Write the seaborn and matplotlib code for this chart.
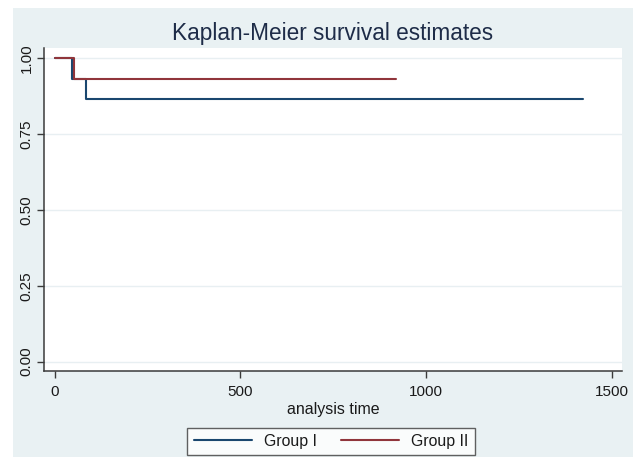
import matplotlib
matplotlib.use("Agg")
import matplotlib.pyplot as plt
from matplotlib.patches import Rectangle
import seaborn as sns
import pandas as pd

# Data (Kaplan-Meier step functions)
group1_time = [0, 48, 84, 1422]
group1_surv = [1.0, 0.9333, 0.8667, 0.8667]
group2_time = [0, 52, 919]
group2_surv = [1.0, 0.9333, 0.9333]
group_names = ["Group I", "Group II"]
x_ticks = [0, 500, 1000, 1500]
y_ticks = [0.0, 0.25, 0.5, 0.75, 1.0]
y_tick_labels = ["0.00", "0.25", "0.50", "0.75", "1.00"]

df = pd.concat([
    pd.DataFrame({"time": group1_time, "surv": group1_surv, "group": group_names[0]}),
    pd.DataFrame({"time": group2_time, "surv": group2_surv, "group": group_names[1]}),
], ignore_index=True)

sns.set_theme(style="white")
plt.rcParams["font.family"] = ["Liberation Sans", "DejaVu Sans"]

W, H = 633, 457
fig = plt.figure(figsize=(W / 100, H / 100), dpi=100)
fig.patch.set_facecolor("white")
bg = "#e9f1f3"
fig.add_artist(Rectangle((13 / W, 0), 1 - 13 / W, 1 - 8 / H, transform=fig.transFigure,
                         facecolor=bg, edgecolor="none", zorder=-10))

ax = fig.add_axes([44 / W, 1 - 371 / H, 578 / W, 323 / H])
ax.set_facecolor("white")

palette = {"Group I": "#1a476f", "Group II": "#90353b"}
sns.lineplot(data=df, x="time", y="surv", hue="group", palette=palette,
             estimator=None, sort=False, drawstyle="steps-post", lw=1.5, ax=ax)

ax.set_xlim(-28.3, 1528)
ax.set_ylim(-0.031, 1.034)
ax.set_xticks(x_ticks)
ax.set_xticklabels([str(t) for t in x_ticks])
ax.set_yticks(y_ticks)
ax.set_yticklabels(y_tick_labels)
plt.setp(ax.get_yticklabels(), rotation=90, va="center")

ax.yaxis.grid(True, color="#e8eff2", lw=1.0)
ax.xaxis.grid(False)
ax.set_axisbelow(True)

for s in ["top", "right"]:
    ax.spines[s].set_visible(False)
for s in ["left", "bottom"]:
    ax.spines[s].set_color("#3a3a3a")
    ax.spines[s].set_linewidth(1.1)

ax.tick_params(axis="both", which="major", direction="out", length=5, width=1.0,
               color="#3a3a3a", labelsize=11, labelcolor="#1a1a1a",
               left=True, bottom=True)
ax.tick_params(axis="y", pad=2.5)
ax.tick_params(axis="x", pad=5)

ax.set_xlabel("analysis time", fontsize=11.5, color="#1a1a1a", labelpad=2)
ax.set_ylabel("")

fig.text(333 / W, 1 - 40 / H, "Kaplan-Meier survival estimates", ha="center",
         va="baseline", fontsize=16.3, color="#1e2c48")

handles, labels = ax.get_legend_handles_labels()
if ax.get_legend() is not None:
    ax.get_legend().remove()
leg = fig.legend(handles, labels, loc="center", bbox_to_anchor=(331 / W, 1 - 441.5 / H),
                 ncol=2, frameon=True, fancybox=False, edgecolor="#3a3a3a",
                 facecolor="white", fontsize=11.4, handlelength=3.7,
                 handletextpad=0.75, columnspacing=1.5, borderpad=0.4)
leg.get_frame().set_linewidth(1.0)
for t in leg.get_texts():
    t.set_color("#1a1a1a")

fig.savefig("out.png", dpi=100)
